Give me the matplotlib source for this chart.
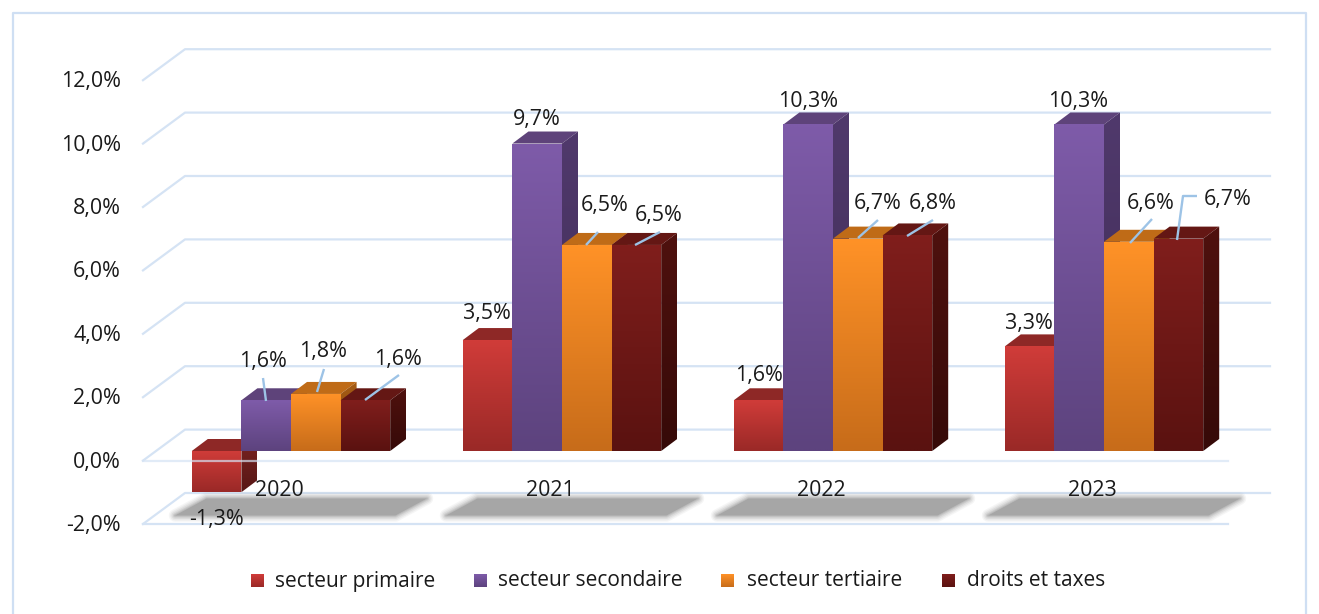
#!/usr/bin/env python3
"""Faux-3D clustered columns: croissance par secteur, 2020-2023."""
import numpy as np
import matplotlib
matplotlib.use("Agg")
import matplotlib.pyplot as plt
from matplotlib.colors import to_rgb
from matplotlib.patches import Polygon

years = ["2020", "2021", "2022", "2023"]
series_names = ["secteur primaire", "secteur secondaire", "secteur tertiaire", "droits et taxes"]
primaire = [-1.3, 3.5, 1.6, 3.3]
secondaire = [1.6, 9.7, 10.3, 10.3]
tertiaire = [1.8, 6.5, 6.7, 6.6]
droits = [1.6, 6.5, 6.8, 6.7]
yticks = [-2, 0, 2, 4, 6, 8, 10, 12]
ytick_labels = ["-2,0%", "0,0%", "2,0%", "4,0%", "6,0%", "8,0%", "10,0%", "12,0%"]

W, H = 1319, 614
X0, PITCH = 291.0, 271.0      # px of first group centre, group spacing
Y0, SCALE = 451.0, 31.7       # px of 0 %, px per 1 %
BAR = 49.6
DX, DY = 16, 12               # depth of the columns

# colours: front top, front bottom, top face, side top, side bottom
STYLE = [
    ("#D03C39", "#9A2927", "#8E2826", "#7A2321", "#561715"),
    ("#7E5BA9", "#5D437E", "#5E437A", "#50396C", "#3F2C55"),
    ("#FF9227", "#C76C1A", "#BF6B17", "#A65C14", "#84490F"),
    ("#801E1C", "#5A1210", "#641714", "#4F110E", "#360A08"),
]

plt.rcParams.update({"font.family": "Open Sans"})
fig = plt.figure(figsize=(W / 100, H / 100), dpi=100, facecolor="white")
ax = fig.add_axes([0, 0, 1, 1])
ax.set_xlim((0 - X0) / PITCH, (W - X0) / PITCH)
ax.set_ylim((Y0 - H) / SCALE, Y0 / SCALE)
ax.axis("off")


def dx(p):
    return p / PITCH


def dy(p):
    return p / SCALE


def px(x, y):
    return (x - X0) / PITCH, (Y0 - y) / SCALE


def shade(pts, c1, c2, z):
    xs = [p[0] for p in pts]
    ys = [p[1] for p in pts]
    grad = np.linspace(to_rgb(c1), to_rgb(c2), 64)[:, None, :]
    im = ax.imshow(grad, extent=(min(xs), max(xs), min(ys), max(ys)), aspect="auto",
                   origin="upper", zorder=z, interpolation="bilinear")
    poly = Polygon(pts, closed=True, transform=ax.transData, fc="none", ec="none")
    im.set_clip_path(poly)


GRID = "#D5E3F4"
TXT = "#1a1a1a"
FL, FR = (143 - X0) / PITCH, (1228 - X0) / PITCH
BL, BR = (185 - X0) / PITCH, (1270 - X0) / PITCH
front, back = -dy(9.6), dy(21.4)

# outer frame
ax.plot(*zip(px(13, 614), px(13, 12.5), px(1306, 12.5), px(1306, 614)), color="#CFDFF3", lw=1.6, zorder=1)

# walls and floor
for v, lab in zip(yticks, ytick_labels):
    ax.plot([FL, BL, BR], [v + front, v + back, v + back], color=GRID, lw=1.6, zorder=1)
    ax.text(px(121, 0)[0], v + front - dy(1.5), lab, ha="right", va="center", fontsize=15.4, color=TXT, zorder=9)
ax.plot([FL, FR], [-2 + front, -2 + front], color=GRID, lw=1.6, zorder=1)

# floor shadows
for i in range(len(years)):
    c = float(i)
    inset = 1.5
    sx = [c + dx(-119 + inset * 2), c + dx(106 - inset), c + dx(139 - inset * 2), c + dx(-86 + inset)]
    sy = [-2 + dy(-2.6 + inset), -2 + dy(-2.6 + inset), -2 + dy(17.4 - inset), -2 + dy(17.4 - inset)]
    pts = list(zip(sx, sy))
    for lw, al in [(9, 0.10), (7, 0.14), (5, 0.2), (3, 0.3), (1.5, 0.4)]:
        ax.add_patch(Polygon(pts, closed=True, fc="none", ec="#A6A6A6", lw=lw, alpha=al, joinstyle="round", zorder=2))
    ax.add_patch(Polygon(pts, closed=True, fc="#A6A6A6", ec="none", zorder=2))

# columns, left to right so each hides the side of the previous one
all_series = [primaire, secondaire, tertiaire, droits]
for i in range(len(years)):
    for k, vals in enumerate(all_series):
        v = vals[i]
        st = STYLE[k]
        x0 = i + dx((k - 2) * BAR)
        x1 = x0 + dx(BAR)
        hi, lo = max(v, 0), min(v, 0)
        z = 3 + k * 0.1
        ox, oy = dx(DX), dy(DY)
        ax.add_patch(Polygon([(x0, hi), (x1, hi), (x1 + ox, hi + oy), (x0 + ox, hi + oy)],
                             closed=True, fc=st[2], ec="none", zorder=z))
        shade([(x1, hi), (x1 + ox, hi + oy), (x1 + ox, lo + oy), (x1, lo)], st[3], st[4], z)
        shade([(x0, hi), (x1, hi), (x1, lo), (x0, lo)], st[0], st[1], z + 0.01)

# front line at 0 runs across the negative column
ax.plot([FL, FR], [0 + front, 0 + front], color=GRID, lw=1.6, alpha=0.7, zorder=4)

# leader lines, in px
LEADERS = [
    [(263, 378), (266, 401)], [(324, 369), (317, 392)], [(399, 375), (365, 400)],
    [(598, 232), (586, 245)], [(660, 232), (635, 245)],
    [(878, 220), (858, 238)], [(933, 220), (907, 236)],
    [(1152, 219), (1130, 243)], [(1197, 196), (1183, 196), (1177, 240)],
]
for seg in LEADERS:
    ax.plot(*zip(*[px(*p) for p in seg]), color="#9DC3E6", lw=1.7, zorder=6, solid_capstyle="butt")

# data labels: centre of each label in px
LABEL_POS = [
    [(216, 519), (487, 314), (759, 376), (1029, 323)],
    [(263, 362), (537, 120), (808, 102), (1078, 101)],
    [(323, 352), (605, 205), (878, 204), (1151, 203)],
    [(398, 359), (659, 216), (933, 204), (1228, 199)],
]
for vals, pos in zip(all_series, LABEL_POS):
    for v, p in zip(vals, pos):
        ax.text(*px(*p), f"{v:.1f}%".replace(".", ","), ha="center", va="center",
                fontsize=15.4, color=TXT, zorder=8)

# category labels
for i, yr in enumerate(years):
    ax.text(i + dx(-12), px(0, 491)[1], yr, ha="center", va="center", fontsize=15.4, color=TXT, zorder=7)

# legend
LEG_SQ = [251, 474, 721, 942]
LEG_TXT = [275, 498, 747, 967]
for name, sq, tx, st in zip(series_names, LEG_SQ, LEG_TXT, STYLE):
    pts = [px(sq, 574), px(sq + 13, 574), px(sq + 13, 587), px(sq, 587)]
    shade(pts, st[0], st[1], 5)
    ax.text(*px(tx, 581), name, ha="left", va="center", fontsize=15, color=TXT, zorder=7)

ax.set_xlim((0 - X0) / PITCH, (W - X0) / PITCH)
ax.set_ylim((Y0 - H) / SCALE, Y0 / SCALE)
fig.savefig("out.png", dpi=100, facecolor="white")
